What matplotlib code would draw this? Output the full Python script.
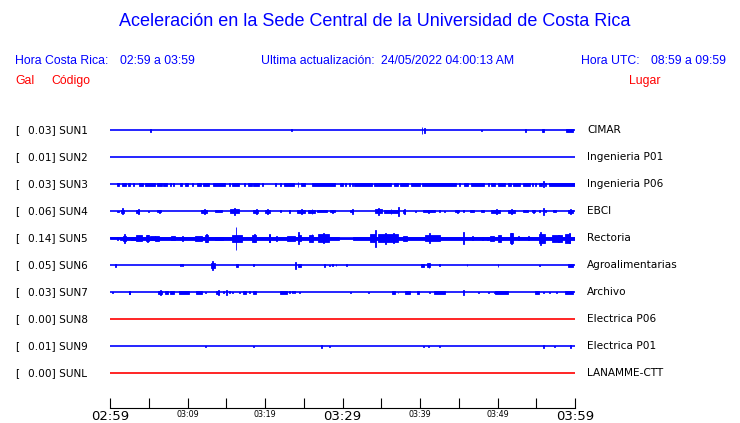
import matplotlib
matplotlib.use("Agg")
import matplotlib.pyplot as plt

# ------------------ DATA ------------------
codes = ["SUN1", "SUN2", "SUN3", "SUN4", "SUN5", "SUN6", "SUN7", "SUN8", "SUN9", "SUNL"]
gal = [0.03, 0.01, 0.03, 0.06, 0.14, 0.05, 0.03, 0.00, 0.01, 0.00]
places = ["CIMAR", "Ingenieria P01", "Ingenieria P06", "EBCI", "Rectoria",
          "Agroalimentarias", "Archivo", "Electrica P06", "Electrica P01", "LANAMME-CTT"]
trace_colors = ["blue"] * 7 + ["red", "blue", "red"]

# minutes after 02:59 for the time axis
tick_minutes = [0, 10, 20, 30, 40, 50, 60]
tick_labels = ["02:59", "03:09", "03:19", "03:29", "03:39", "03:49", "03:59"]
big_labels = ["02:59", "03:29", "03:59"]

# activity on each trace: (start min, end min, half amplitude; 27 units between traces)
sun1 = [(5.2, 5.2, 1.3), (23.3, 23.3, 0.8), (40.2, 40.2, 3.3), (40.5, 40.5, 2.5),
        (47.9, 47.9, 0.7), (53.5, 53.5, 1.3), (55.7, 55.7, 1.5), (55.9, 55.9, 1.5),
        (58.9, 59.8, 1.7)]
sun2 = []
sun3 = [(0.9, 1.1, 1.3), (1.5, 2.0, 1.3), (2.3, 2.6, 1.3), (3.0, 3.0, 1.3), (3.7, 4.3, 1.3),
        (4.5, 5.8, 1.3), (6.0, 6.7, 1.3), (6.9, 7.3, 1.3), (7.7, 7.7, 1.3), (8.1, 8.1, 1.3),
        (9.0, 9.3, 1.3), (9.7, 10.1, 1.3), (10.6, 10.6, 1.3), (11.2, 11.8, 1.3), (12.0, 12.8, 1.3),
        (13.3, 14.8, 1.3), (15.3, 15.3, 1.3), (15.7, 16.6, 1.3), (17.3, 17.3, 1.3),
        (17.8, 18.3, 1.3), (18.5, 19.2, 1.3), (19.6, 19.6, 1.3), (21.3, 21.3, 1.3),
        (21.9, 21.9, 1.3), (22.5, 23.8, 1.3), (24.2, 24.2, 2.5), (24.7, 25.2, 1.3),
        (26.0, 29.0, 1.3), (29.7, 30.1, 1.3), (30.3, 30.3, 1.3), (30.8, 30.8, 1.3),
        (31.2, 31.2, 1.3), (31.5, 33.8, 1.3), (34.1, 36.3, 1.3), (36.6, 37.2, 1.3),
        (37.4, 38.5, 1.3), (38.8, 40.0, 1.3), (40.2, 44.7, 1.3), (45.0, 45.0, 1.3),
        (45.7, 46.2, 1.3), (46.6, 48.2, 1.3), (48.8, 48.8, 1.3), (49.2, 49.7, 1.3),
        (50.1, 51.0, 1.3), (51.4, 51.8, 1.3), (52.0, 52.9, 1.3), (53.3, 54.2, 1.3),
        (54.4, 54.4, 1.3), (54.8, 54.8, 1.3), (55.3, 55.7, 1.3), (55.9, 55.9, 3.0),
        (56.1, 56.3, 1.3), (56.6, 60.0, 1.3)]
sun4 = [(0.9, 1.1, 0.7), (1.4, 1.8, 1.5), (1.6, 1.6, 3.0), (3.4, 3.8, 1.5), (3.6, 3.6, 2.3),
        (4.9, 4.9, 0.7), (6.0, 6.6, 1.1), (6.3, 6.3, 1.7), (11.8, 12.5, 1.6), (12.1, 12.1, 2.7),
        (13.5, 14.5, 1.2), (15.5, 16.6, 2.0), (16.0, 16.0, 3.3), (18.4, 19.1, 1.5),
        (18.8, 18.8, 2.3), (20.0, 20.6, 1.4), (20.3, 20.3, 2.3), (21.9, 21.9, 1.0),
        (23.1, 23.1, 1.3), (24.1, 25.2, 1.6), (24.6, 24.6, 2.7), (25.6, 26.5, 1.4),
        (26.0, 26.0, 2.3), (26.7, 28.0, 1.0), (28.4, 29.0, 1.1), (28.7, 28.7, 1.7),
        (31.0, 31.4, 1.2), (31.2, 31.2, 2.3), (34.2, 35.1, 2.0), (34.6, 34.6, 3.3),
        (35.3, 37.2, 1.6), (36.2, 36.2, 2.7), (37.2, 37.2, 4.7), (37.8, 38.0, 1.6),
        (37.9, 37.9, 2.7), (39.4, 39.4, 0.7), (40.4, 41.9, 1.1), (41.0, 41.0, 1.7),
        (42.4, 42.4, 1.0), (43.1, 43.1, 0.7), (44.5, 45.0, 1.0), (44.8, 44.8, 1.3),
        (45.6, 45.6, 1.0), (46.4, 47.0, 0.8), (47.9, 48.3, 0.8), (49.2, 50.3, 1.6),
        (49.8, 49.8, 2.7), (51.4, 52.3, 1.5), (51.8, 51.8, 2.3), (53.3, 53.9, 1.0),
        (54.4, 54.8, 1.1), (54.6, 54.6, 1.7), (55.3, 55.5, 1.0), (55.9, 55.9, 3.3),
        (56.1, 56.3, 1.1), (57.2, 57.6, 1.0), (59.1, 59.8, 1.6), (59.4, 59.4, 2.7)]
sun5 = [(0.0, 1.3, 0.9), (1.3, 29.5, 1.5), (29.5, 31.4, 0.6), (31.4, 60.0, 1.5),
        (0.9, 0.9, 1.7), (1.7, 2.0, 2.7), (1.8, 1.8, 4.7), (2.7, 3.2, 1.7), (3.4, 4.1, 3.0),
        (4.7, 5.0, 3.0), (4.8, 4.8, 3.3), (5.2, 5.8, 2.0), (5.8, 6.3, 2.7), (7.9, 8.4, 2.0),
        (9.3, 9.3, 2.7), (11.0, 11.9, 2.7), (12.3, 12.6, 3.5), (12.4, 12.4, 4.0),
        (13.5, 14.6, 1.7), (15.7, 17.0, 3.3), (16.2, 16.2, 11.7), (18.3, 18.9, 3.5),
        (18.6, 18.6, 4.0), (20.5, 20.7, 3.5), (20.5, 20.5, 4.0), (21.4, 21.6, 2.3),
        (22.8, 23.9, 2.3), (24.2, 24.6, 3.2), (24.3, 24.3, 6.0), (25.7, 26.2, 3.5),
        (26.0, 26.0, 4.0), (26.9, 28.2, 4.0), (27.5, 27.5, 5.0), (33.6, 34.2, 4.0),
        (34.2, 34.2, 8.3), (34.6, 37.2, 4.0), (35.5, 35.5, 5.5), (36.5, 36.5, 5.0),
        (37.8, 38.3, 2.7), (40.6, 42.6, 3.0), (41.2, 41.2, 5.0), (45.5, 45.5, 6.0),
        (46.7, 46.7, 2.0), (48.0, 48.0, 1.3), (48.6, 48.6, 1.7), (49.0, 49.5, 2.3),
        (50.1, 50.5, 3.3), (51.6, 52.0, 5.0), (51.8, 51.8, 5.3), (52.7, 52.7, 2.0),
        (53.9, 53.9, 2.0), (55.3, 56.1, 4.5), (55.5, 55.5, 6.7), (57.0, 58.3, 3.3),
        (57.8, 57.8, 3.3), (58.7, 59.4, 4.5), (59.2, 59.2, 5.0)]
sun6 = [(0.6, 0.8, 1.3), (9.0, 9.0, 1.0), (9.3, 9.3, 1.0), (13.0, 13.5, 2.5), (13.2, 13.2, 4.7),
        (16.3, 16.5, 1.3), (18.4, 18.4, 1.0), (23.9, 23.9, 3.3), (24.3, 24.7, 1.3),
        (27.6, 27.8, 1.3), (28.3, 28.3, 0.7), (28.7, 28.7, 1.0), (29.1, 29.1, 1.0),
        (30.4, 30.4, 1.0), (40.1, 40.5, 1.3), (40.9, 41.3, 2.0), (41.1, 41.1, 2.3),
        (42.4, 42.4, 1.0), (46.0, 46.0, 1.0), (50.0, 50.0, 1.3), (55.4, 55.4, 0.5),
        (59.1, 59.7, 1.3)]
sun7 = [(0.3, 0.3, 0.7), (2.4, 2.6, 1.3), (2.5, 2.5, 1.7), (6.2, 6.7, 1.5), (6.4, 6.4, 2.3),
        (7.1, 7.5, 1.3), (7.8, 8.3, 1.3), (8.9, 10.2, 1.3), (11.1, 11.9, 1.3), (12.3, 12.3, 0.7),
        (13.7, 14.1, 1.5), (13.9, 13.9, 2.7), (14.6, 14.6, 1.0), (15.0, 15.0, 2.3),
        (15.4, 15.4, 1.0), (15.8, 15.8, 0.7), (16.6, 16.6, 0.7), (17.2, 17.6, 1.3),
        (17.9, 17.9, 1.0), (18.5, 18.9, 1.3), (21.9, 22.9, 1.3), (23.1, 23.1, 1.0),
        (23.5, 23.5, 1.0), (23.8, 23.8, 1.0), (24.4, 24.4, 0.7), (31.0, 31.0, 0.7),
        (33.3, 33.3, 0.7), (36.4, 36.8, 1.3), (37.1, 37.1, 0.7), (38.1, 38.7, 1.3),
        (39.6, 39.9, 1.3), (41.2, 41.2, 0.7), (41.8, 43.2, 1.3), (45.5, 45.5, 2.3),
        (47.5, 47.5, 0.7), (48.8, 48.8, 0.7), (49.6, 49.6, 0.7), (49.7, 51.4, 1.3),
        (54.8, 55.3, 1.3), (55.9, 55.9, 0.7), (56.6, 56.6, 0.7), (57.6, 57.6, 0.7),
        (58.7, 59.8, 1.3)]
sun8 = []
sun9 = [(12.3, 12.3, 0.7), (18.4, 18.4, 0.7), (27.2, 27.2, 1.3), (28.3, 28.3, 0.7),
        (40.4, 40.4, 0.7), (41.0, 41.0, 0.7), (42.4, 42.4, 0.7), (55.9, 55.9, 1.3),
        (57.3, 57.3, 0.7), (59.4, 59.4, 1.3)]
sunl = []

activity = [sun1, sun2, sun3, sun4, sun5, sun6, sun7, sun8, sun9, sunl]

# ------------------ PLOT ------------------
W, H = 740, 423
ROW_UNITS = 27.0


def fpos(x, y):
    # pixel position -> figure fraction
    return x / W, 1 - y / H


def main():
    fig = plt.figure(figsize=(W / 100, H / 100), dpi=100)
    fig.patch.set_facecolor("white")

    ax = fig.add_axes([110 / W, 1 - 408 / H, 465 / W, (408 - 115) / H])
    ax.set_xlim(0, 60)
    ax.set_ylim((408 - 130.3) / ROW_UNITS, (115 - 130.3) / ROW_UNITS)

    for row, (events, color) in enumerate(zip(activity, trace_colors)):
        ax.hlines(row, 0, 60, color=color, lw=1.2)
        for t0, t1, a in events:
            ax.bar(t0, 2 * a / ROW_UNITS, width=max(t1 - t0, 0.12),
                   bottom=row - a / ROW_UNITS, align="edge", color=color,
                   edgecolor=color, linewidth=0.6)

    for s in ["top", "left", "right"]:
        ax.spines[s].set_visible(False)
    ax.spines["bottom"].set_linewidth(0.8)
    ax.set_yticks([])
    ax.set_xticks(range(0, 61, 5))
    ax.set_xticklabels([tick_labels[tick_minutes.index(m)] if m in tick_minutes else ""
                        for m in range(0, 61, 5)])
    ax.tick_params(axis="x", direction="in", length=7.5, width=0.8, pad=1.5)
    for lab in ax.get_xticklabels():
        lab.set_fontsize(9.5 if lab.get_text() in big_labels else 5.8)
        lab.set_fontfamily("DejaVu Sans")

    # station labels
    for row, (code, g, place) in enumerate(zip(codes, gal, places)):
        y = 130.3 + row * ROW_UNITS
        fig.text(*fpos(15, y), "[", fontsize=7.6, family="DejaVu Sans",
                 va="center", ha="left")
        fig.text(*fpos(27.5, y), "%.2f] %s" % (g, code), fontsize=7.6,
                 family="DejaVu Sans", va="center", ha="left")
        fig.text(*fpos(587, y), place, fontsize=7.6, family="DejaVu Sans",
                 va="center", ha="left")

    # header
    fig.text(*fpos(375, 22), "Aceleración en la Sede Central de la Universidad de Costa Rica",
             fontsize=13, family="Liberation Sans", color="blue", ha="center", va="center")
    head = dict(fontsize=8.8, family="Liberation Sans", color="blue", va="center", ha="left")
    fig.text(*fpos(15, 61), "Hora Costa Rica:", **head)
    fig.text(*fpos(120, 61), "02:59 a 03:59", **head)
    fig.text(*fpos(261, 61), "Ultima actualización:", **head)
    fig.text(*fpos(381, 61), "24/05/2022 04:00:13 AM", **head)
    fig.text(*fpos(581, 61), "Hora UTC:", **head)
    fig.text(*fpos(651, 61), "08:59 a 09:59", **head)
    red = dict(head, color="red")
    fig.text(*fpos(15, 81), "Gal", **red)
    fig.text(*fpos(51, 81), "Código", **red)
    fig.text(*fpos(629, 81), "Lugar", **red)

    fig.savefig("out.png", dpi=100)
    plt.close(fig)


if __name__ == "__main__":
    main()
